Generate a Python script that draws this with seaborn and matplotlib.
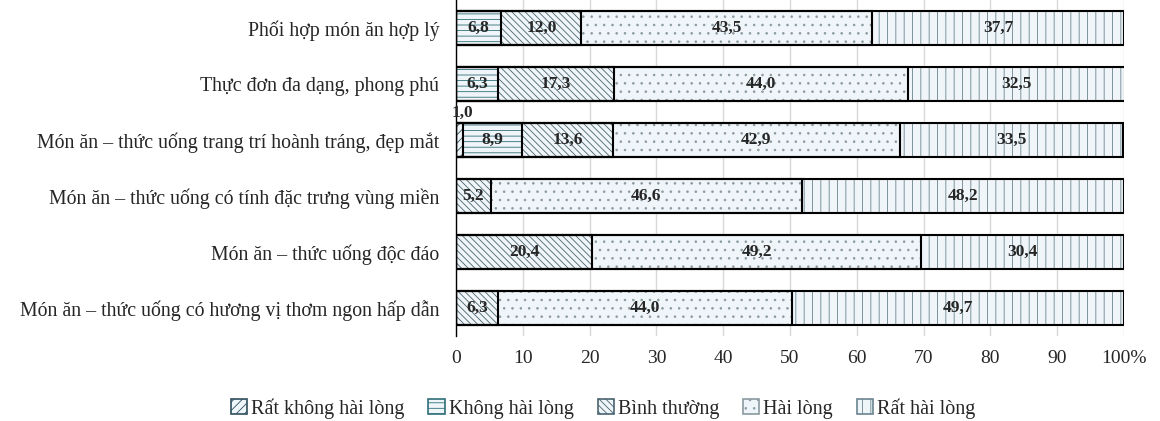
import numpy as np
import pandas as pd
import seaborn as sns
import matplotlib.pyplot as plt
from matplotlib.patches import Patch

# Data (percent), categories top to bottom
categories = [
    "Phối hợp món ăn hợp lý",
    "Thực đơn đa dạng, phong phú",
    "Món ăn – thức uống trang trí hoành tráng, đẹp mắt",
    "Món ăn – thức uống có tính đặc trưng vùng miền",
    "Món ăn – thức uống độc đáo",
    "Món ăn – thức uống có hương vị thơm ngon hấp dẫn",
]
levels = ["Rất không hài lòng", "Không hài lòng", "Bình thường", "Hài lòng", "Rất hài lòng"]
rat_khong = [0.0, 0.0, 1.0, 0.0, 0.0, 0.0]
khong = [6.8, 6.3, 8.9, 0.0, 0.0, 0.0]
binh_thuong = [12.0, 17.3, 13.6, 5.2, 20.4, 6.3]
hai_long = [43.5, 44.0, 42.9, 46.6, 49.2, 44.0]
rat_hai_long = [37.7, 32.5, 33.5, 48.2, 30.4, 49.7]

series = [rat_khong, khong, binh_thuong, hai_long, rat_hai_long]
hatches = ["////", "---", "\\\\\\\\\\", "..", "||"]
hatch_cols = ["#2f4f5c", "#2f6f78", "#4a6470", "#8a9aa0", "#6a8490"]
face = "#eef6f9"

sns.set_style("white")
plt.rcParams["font.family"] = ["Liberation Serif", "DejaVu Serif"]
plt.rcParams["hatch.linewidth"] = 0.6

fig = plt.figure(figsize=(11.6, 4.21), dpi=100)
ax = fig.add_axes([0.393, 0.202, 0.576, 0.798])

df = pd.DataFrame(np.array(series).T, columns=levels)
df["cat"] = categories
cum = df[levels].cumsum(axis=1)

# draw cumulative bars from the last level to the first so they stack
for i in range(len(levels) - 1, -1, -1):
    # hatched fill (hatch takes the edge colour)
    sns.barplot(x=cum[levels[i]], y=df["cat"], orient="h", color=face,
                edgecolor=hatch_cols[i], linewidth=0, hatch=hatches[i],
                width=0.6, ax=ax, zorder=2)
    # black outline on top
    sns.barplot(x=cum[levels[i]], y=df["cat"], orient="h", fill=False,
                edgecolor="black", linewidth=1.5, width=0.6, ax=ax, zorder=3)

# value labels
for r in range(len(categories)):
    left = 0.0
    for i, lv in enumerate(levels):
        v = df[lv][r]
        if v > 0:
            txt = f"{v:.1f}".replace(".", ",")
            if v < 3:
                ax.text(left + v / 2 + 0.4, r - 0.34, txt, ha="center", va="bottom",
                        fontsize=12.5, fontweight="bold", zorder=5)
            else:
                ax.text(left + v / 2, r, txt, ha="center", va="center",
                        fontsize=12.5, fontweight="bold", zorder=5)
        left += v

ax.set_xlim(0, 100)
ax.set_ylim(5.5, -0.5)
ax.set_xticks(np.arange(0, 101, 10))
ax.set_xticklabels([str(t) for t in range(0, 100, 10)] + ["100%"], fontsize=14)
ax.tick_params(axis="y", labelsize=14.3, length=0, pad=12)
ax.tick_params(axis="x", length=0, pad=10)
ax.set_xlabel("")
ax.set_ylabel("")
ax.grid(axis="x", color="#d9d9d9", linewidth=1, zorder=0)
ax.set_axisbelow(True)
for s in ["top", "right", "bottom"]:
    ax.spines[s].set_visible(False)
ax.spines["left"].set_color("black")
ax.spines["left"].set_linewidth(1)

handles = [Patch(facecolor=face, edgecolor=c, hatch=h, linewidth=1.2)
           for h, c in zip(hatches, hatch_cols)]
fig.legend(handles, levels, loc="center", bbox_to_anchor=(0.52, 0.03), ncol=5,
           frameon=False, fontsize=14.5, handlelength=0.8, handleheight=0.8,
           handletextpad=0.2, columnspacing=1.2)

fig.savefig("out.png", dpi=100)
